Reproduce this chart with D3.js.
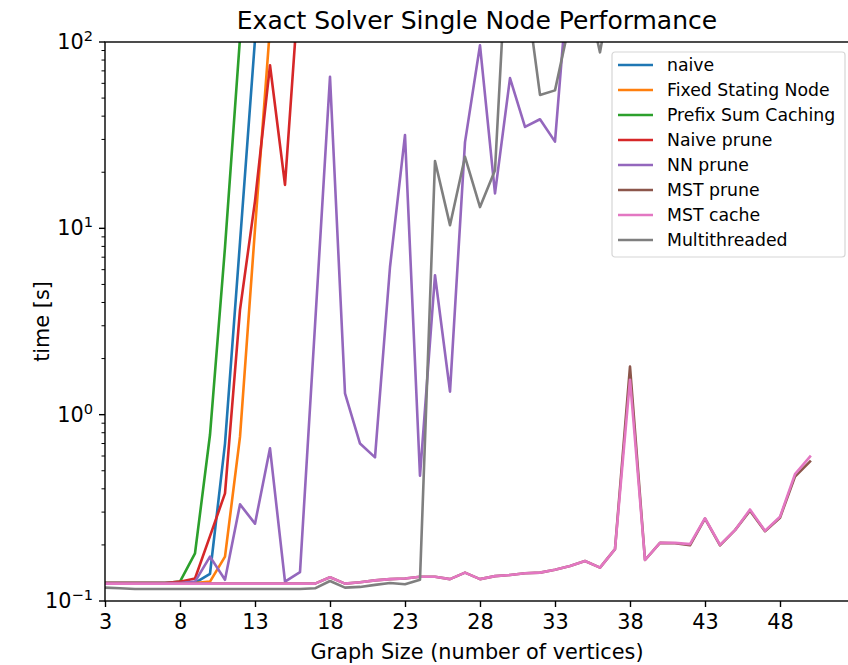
<!DOCTYPE html>
<html>
<head>
<meta charset="utf-8">
<script src="https://cdnjs.cloudflare.com/ajax/libs/d3/7.8.5/d3.min.js"></script>
<style>
	body { margin: 0; background: #fff; }
	svg { display: block; font-family: "DejaVu Sans", sans-serif; }
</style>
</head>
<body>
<svg width="848" height="665"></svg>
<script>
// graph sizes (x) -- every series starts at 3
var sizes = [3,4,5,6,7,8,9,10,11,12,13,14,15,16,17,18,19,20,21,22,23,24,25,26,
	27,28,29,30,31,32,33,34,35,36,37,38,39,40,41,42,43,44,45,46,47,48,49,50];

var xTicks = [3,8,13,18,23,28,33,38,43,48];
var yTicks = [0.1, 1, 10, 100];
var yExp = ["\u22121", "0", "1", "2"];

// time [s]
var naive = [0.125,0.125,0.125,0.125,0.125,0.125,0.125,0.14,0.70,8.4,103,1200];
var fixedStart = [0.125,0.125,0.125,0.125,0.125,0.125,0.125,0.127,0.173,0.76,9.9,120,1500];
var prefixSum = [0.125,0.125,0.125,0.125,0.125,0.127,0.18,0.78,7.9,105,1200];
var naivePrune = [0.125,0.125,0.125,0.125,0.125,0.127,0.132,0.223,0.378,3.65,14,75,17.1,240];
var nnPrune = [0.125,0.125,0.125,0.125,0.125,0.125,0.127,0.173,0.13,0.33,0.26,0.66,0.127,0.143,
	3.0,65,1.30,0.70,0.59,6.2,31.7,0.47,5.6,1.33,29,96,15.4,64,35,38.5,29.2,290];
var mstPrune = [0.124,0.124,0.124,0.124,0.124,0.124,0.124,0.124,0.124,0.124,0.124,0.124,0.124,0.124,0.124,
	0.134,0.124,0.126,0.129,0.131,0.132,0.135,0.135,0.131,0.142,0.131,0.136,0.138,0.141,0.142,
	0.147,0.154,0.164,0.151,0.19,1.81,0.166,0.205,0.204,0.199,0.277,0.199,0.24,0.305,0.237,0.28,0.465,0.56];
var mstCache = [0.124,0.124,0.124,0.124,0.124,0.124,0.124,0.124,0.124,0.124,0.124,0.124,0.124,0.124,0.124,
	0.134,0.124,0.126,0.129,0.131,0.132,0.135,0.135,0.131,0.142,0.131,0.136,0.138,0.141,0.142,
	0.147,0.154,0.164,0.151,0.19,1.54,0.166,0.205,0.205,0.202,0.278,0.2,0.24,0.31,0.238,0.283,0.48,0.595];
var multithreaded = [0.118,0.117,0.116,0.116,0.116,0.116,0.116,0.116,0.116,0.116,0.116,0.116,0.116,0.116,
	0.117,0.128,0.118,0.119,0.122,0.125,0.123,0.13,23,10.4,24.2,13.0,20.5,650,210,52,55,130,200,88,250];

var names = ["naive","Fixed Stating Node","Prefix Sum Caching","Naive prune","NN prune","MST prune","MST cache","Multithreaded"];
var colors = ["#1f77b4","#ff7f0e","#2ca02c","#d62728","#9467bd","#8c564b","#e377c2","#7f7f7f"];
var series = [naive, fixedStart, prefixSum, naivePrune, nnPrune, mstPrune, mstCache, multithreaded];

var m = {left: 105, right: 849, top: 42, bottom: 601};

var svg = d3.select("svg");

var x = d3.scaleLinear().domain([3, 52.6]).range([m.left, m.right]);
var y = d3.scaleLog().domain([0.1, 100]).range([m.bottom, m.top]);

svg.append("defs").append("clipPath").attr("id","plotclip")
	.append("rect")
	.attr("x", m.left).attr("y", m.top)
	.attr("width", m.right - m.left).attr("height", m.bottom - m.top);

// lines
var line = d3.line()
	.x((d,i)=>x(sizes[i]))
	.y(d=>y(d));

svg.append("g")
	.attr("clip-path","url(#plotclip)")
	.selectAll("path")
	.data(series)
	.enter()
	.append("path")
	.attr("d", d=>line(d))
	.attr("fill","none")
	.attr("stroke", (d,i)=>colors[i])
	.attr("stroke-width", 2.6)
	.attr("stroke-linejoin","round")
	.attr("stroke-linecap","square");

// x axis
var xAxis = d3.axisBottom(x)
	.tickValues(xTicks)
	.tickSize(6)
	.tickPadding(7)
	.tickSizeOuter(0);

var xg = svg.append("g")
	.attr("transform","translate(0,"+m.bottom+")")
	.call(xAxis);
xg.select(".domain").remove();
xg.selectAll("line").attr("stroke","#000").attr("stroke-width",1.4);
xg.selectAll("text").attr("font-size",20.8).attr("fill","#000").attr("font-family","DejaVu Sans");

// y axis minor ticks
var minor = [];
[0.1, 1, 10].forEach(function(b){
	for (var k = 2; k < 10; k++) minor.push(b*k);
});
svg.append("g")
	.selectAll("line")
	.data(minor)
	.enter()
	.append("line")
	.attr("x1", m.left - 3.5).attr("x2", m.left)
	.attr("y1", d=>y(d)).attr("y2", d=>y(d))
	.attr("stroke","#000").attr("stroke-width",1);

svg.append("g")
	.selectAll("line")
	.data(yTicks)
	.enter()
	.append("line")
	.attr("x1", m.left - 6).attr("x2", m.left)
	.attr("y1", d=>y(d)).attr("y2", d=>y(d))
	.attr("stroke","#000").attr("stroke-width",1.4);

var ylab = svg.append("g")
	.selectAll("text")
	.data(yTicks)
	.enter()
	.append("text")
	.attr("x", m.left - 12)
	.attr("y", d=>y(d) + 7)
	.attr("text-anchor","end")
	.attr("font-size",20.8);
ylab.append("tspan").text("10");
ylab.append("tspan").attr("dy",-8).attr("font-size",14.6).text((d,i)=>yExp[i]);

// frame
svg.append("rect")
	.attr("x", m.left).attr("y", m.top)
	.attr("width", m.right + 2 - m.left).attr("height", m.bottom - m.top)
	.attr("fill","none").attr("stroke","#000").attr("stroke-width",1.4);

// texts
svg.append("text")
	.attr("x", 477).attr("y", 29)
	.attr("text-anchor","middle")
	.attr("font-size",25)
	.text("Exact Solver Single Node Performance");

svg.append("text")
	.attr("x", 477).attr("y", 659)
	.attr("text-anchor","middle")
	.attr("font-size",20.8)
	.text("Graph Size (number of vertices)");

svg.append("text")
	.attr("transform","translate(49,"+((m.top+m.bottom)/2)+") rotate(-90)")
	.attr("text-anchor","middle")
	.attr("font-size",20.8)
	.text("time [s]");

// legend
var lg = svg.append("g").attr("transform","translate(612,52)");
lg.append("rect")
	.attr("width",233).attr("height",205).attr("rx",3)
	.attr("fill","#fff").attr("fill-opacity",0.8)
	.attr("stroke","#d6d6d6").attr("stroke-width",1.2);

var items = lg.selectAll("g.item")
	.data(names)
	.enter()
	.append("g")
	.attr("class","item")
	.attr("transform",(d,i)=>"translate(0,"+(13 + i*25)+")");

items.append("line")
	.attr("x1",6).attr("x2",41)
	.attr("stroke",(d,i)=>colors[i])
	.attr("stroke-width",2.6);

items.append("text")
	.attr("x",55).attr("y",6)
	.attr("font-size",17.3)
	.text(d=>d);
</script>
</body>
</html>
